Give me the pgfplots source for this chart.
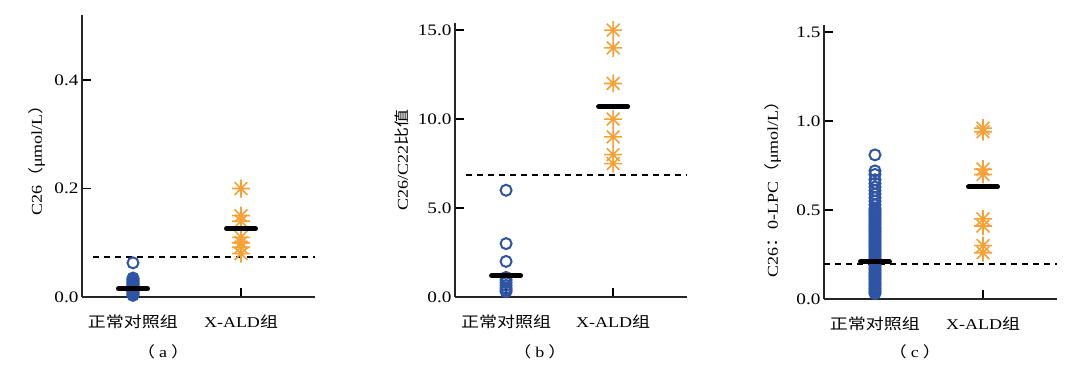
\documentclass[border=0pt]{standalone}
\usepackage{pgfplots}
\pgfplotsset{compat=1.18}
\usepackage{fontspec}
\setmainfont{Liberation Serif}[FakeStretch=1.2]
\newfontfamily\cjk{Noto Sans CJK SC}[FakeStretch=1.2]
\definecolor{cblue}{RGB}{46,84,166}
\definecolor{corange}{RGB}{247,160,52}
\pgfdeclareplotmark{aster8}{%
 \pgfpathmoveto{\pgfqpoint{-\pgfplotmarksize}{0pt}}\pgfpathlineto{\pgfqpoint{\pgfplotmarksize}{0pt}}%
 \pgfpathmoveto{\pgfqpoint{0pt}{-\pgfplotmarksize}}\pgfpathlineto{\pgfqpoint{0pt}{\pgfplotmarksize}}%
 \pgfpathmoveto{\pgfqpoint{-0.7071\pgfplotmarksize}{-0.7071\pgfplotmarksize}}\pgfpathlineto{\pgfqpoint{0.7071\pgfplotmarksize}{0.7071\pgfplotmarksize}}%
 \pgfpathmoveto{\pgfqpoint{-0.7071\pgfplotmarksize}{0.7071\pgfplotmarksize}}\pgfpathlineto{\pgfqpoint{0.7071\pgfplotmarksize}{-0.7071\pgfplotmarksize}}%
 \pgfusepathqstroke}
\pgfdeclareplotmark{medbar}{%
 \pgfpathmoveto{\pgfqpoint{-\pgfplotmarksize}{0pt}}\pgfpathlineto{\pgfqpoint{\pgfplotmarksize}{0pt}}%
 \pgfusepathqstroke}
\newcommand{\subcap}[1]{{\cjk （}\hspace{4pt}#1\hspace{4pt}{\cjk ）}}
\pgfplotsset{
 panel/.style={
  scale only axis, axis lines=left, axis line style={line width=1.8pt,-,black!85},
  tick align=inside, major tick length=9pt, tick style={line width=1.8pt,black},
  xtick={1,2}, xticklabels={{\cjk 正常对照组},{X-ALD{\cjk 组}}},
  xticklabel style={anchor=base,yshift=-31pt},
  yticklabel style={font=\fontsize{16}{18}\selectfont,/pgf/number format/.cd,fixed,fixed zerofill,precision=1,assume math mode=true},
  ylabel style={anchor=center},
  xlabel style={anchor=center},
  clip=false, ymin=0,
 },
 ctrl/.style={only marks, mark=o, mark size=5.5pt, cblue, mark options={line width=2pt}},
 xald/.style={only marks, mark=aster8, mark size=9pt, corange, mark options={line width=1.6pt}},
 med/.style={only marks, mark=medbar, mark size=14.5pt, black, mark options={line width=5pt, line cap=round}},
 cut/.style={black, line width=1.6pt, dash pattern=on 6pt off 5pt},
}
\begin{document}
\begin{tikzpicture}[font=\fontsize{15}{18}\selectfont]
\useasboundingbox (0,0) rectangle (1078pt,366pt);
% (a)
\begin{axis}[panel, at={(82pt,69pt)}, anchor=south west, width=233pt, height=282pt,
  xmin=0.528, xmax=2.685, ymax=0.52, ytick={0,0.2,0.4},
  ylabel={C26{\cjk （}μmol/L{\cjk ）}}, ylabel style={at={(axis description cs:-0.193,0.5)}},
  xlabel={\subcap{a}}, xlabel style={at={(axis description cs:0.348,-0.195)}}]
\addplot[ctrl] coordinates {(1,0.063) (1,0.035) (1,0.033) (1,0.031) (1,0.029) (1,0.027) (1,0.025) (1,0.023) (1,0.021) (1,0.019) (1,0.017) (1,0.015) (1,0.013) (1,0.011) (1,0.009) (1,0.007) (1,0.005) (1,0.003)};
\addplot[xald] coordinates {(2,0.200) (2,0.150) (2,0.140) (2,0.110) (2,0.100) (2,0.092) (2,0.080)};
\addplot[cut] coordinates {(0.63,0.074) (2.685,0.074)};
\addplot[med] coordinates {(1,0.015) (2,0.126)};
\end{axis}
% (b)
\begin{axis}[panel, at={(455pt,69pt)}, anchor=south west, width=232pt, height=274pt,
  xmin=0.523, xmax=2.69, ymax=15.4, ytick={0,5,10,15},
  ylabel={C26/C22{\cjk 比值}}, ylabel style={at={(axis description cs:-0.228,0.5)}},
  xlabel={\subcap{b}}, xlabel style={at={(axis description cs:0.366,-0.2)}}]
\addplot[ctrl] coordinates {(1,6.0) (1,3.0) (1,2.0) (1,1.1) (1,0.95) (1,0.8) (1,0.65) (1,0.5) (1,0.4) (1,0.3)};
\addplot[xald] coordinates {(2,15) (2,14) (2,12) (2,10) (2,9) (2,8) (2,7.5)};
\addplot[cut] coordinates {(0.63,6.85) (2.69,6.85)};
\addplot[med] coordinates {(1,1.2) (2,10.7)};
\end{axis}
% (c)
\begin{axis}[panel, at={(824pt,67pt)}, anchor=south west, width=233pt, height=274pt,
  xmin=0.528, xmax=2.685, ymax=1.54, ytick={0,0.5,1.0,1.5},
  ylabel={C26{\cjk ：}0-LPC{\cjk （}μmol/L{\cjk ）}}, ylabel style={at={(axis description cs:-0.219,0.416)}},
  xlabel={\subcap{c}}, xlabel style={at={(axis description cs:0.39,-0.193)}}]
\addplot[ctrl] coordinates {(1,0.81) (1,0.72) (1,0.70) (1,0.67) (1,0.65) (1,0.63) (1,0.61) (1,0.59) (1,0.57) (1,0.55) (1,0.53) (1,0.51)
 (1,0.50) (1,0.49) (1,0.48) (1,0.47) (1,0.46) (1,0.45) (1,0.44) (1,0.43) (1,0.42) (1,0.41)
 (1,0.40) (1,0.39) (1,0.38) (1,0.37) (1,0.36) (1,0.35) (1,0.34) (1,0.33) (1,0.32) (1,0.31)
 (1,0.30) (1,0.29) (1,0.28) (1,0.27) (1,0.26) (1,0.25) (1,0.24) (1,0.23) (1,0.22) (1,0.21)
 (1,0.20) (1,0.19) (1,0.18) (1,0.17) (1,0.16) (1,0.15) (1,0.14) (1,0.13) (1,0.12) (1,0.11)
 (1,0.10) (1,0.09) (1,0.08) (1,0.07) (1,0.06) (1,0.05) (1,0.04) (1,0.03)};
\addplot[xald] coordinates {(2,0.96) (2,0.94) (2,0.73) (2,0.70) (2,0.45) (2,0.41) (2,0.30) (2,0.26)};
\addplot[cut, line width=1.9pt] coordinates {(0.528,0.198) (2.685,0.198)};
\addplot[med] coordinates {(1,0.21) (2,0.63)};
\end{axis}
\end{tikzpicture}
\end{document}
